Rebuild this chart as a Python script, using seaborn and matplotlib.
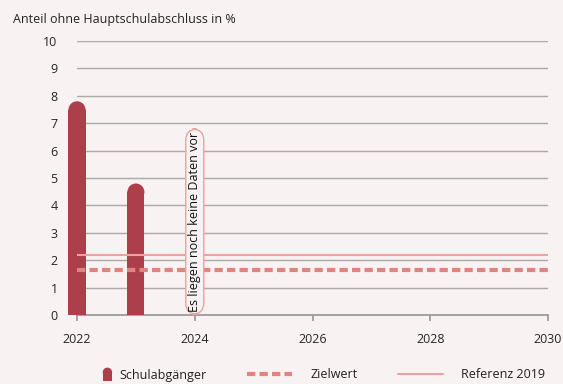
import matplotlib
matplotlib.use("Agg")
import matplotlib.pyplot as plt
import seaborn as sns
import pandas as pd
from matplotlib.patches import Ellipse, Rectangle
from matplotlib.lines import Line2D
from matplotlib.legend_handler import HandlerPatch

years = [2022, 2023]
values = [7.8, 4.8]
zielwert = 1.65
referenz = 2.2
x_ticks = [2022, 2024, 2026, 2028, 2030]
y_ticks = list(range(0, 11))
note_text = "Es liegen noch keine Daten vor"
note_year = 2024

BG = "#f8f2f2"
BAR = "#ad3f4a"
ZIEL = "#e0847f"
REF = "#eaa3a1"
GRID = "#aaaaaa"
FONT = ["Open Sans", "DejaVu Sans"]

sns.set_theme(style="white")
plt.rcParams["font.family"] = FONT
plt.rcParams["text.color"] = "#222222"

fig = plt.figure(figsize=(5.63, 3.84), dpi=100, facecolor=BG)
ax = fig.add_axes([77/563, 1-315/384, (548-77)/563, (315-41)/384])
ax.set_facecolor(BG)

df = pd.DataFrame({"Jahr": years, "Wert": values})
sns.barplot(data=df, x="Jahr", y="Wert", native_scale=True, width=0.29,
            color=BAR, saturation=1, ax=ax, zorder=3, linewidth=0)

ax.set_xlim(2022, 2030)
ax.set_ylim(0, 10)
ax.set_xticks(x_ticks)
ax.set_xticklabels([str(t) for t in x_ticks], fontsize=9)
ax.set_yticks(y_ticks)
ax.set_yticklabels([str(t) for t in y_ticks], fontsize=9)
ax.set_xlabel("")
ax.set_ylabel("")
ax.yaxis.grid(True, color=GRID, lw=1)
ax.xaxis.grid(False)
ax.set_axisbelow(True)
for s in ["top", "right", "left"]:
    ax.spines[s].set_visible(False)
ax.spines["bottom"].set_color("#999999")
ax.tick_params(axis="x", bottom=True, length=4, color="#999999", pad=9)
ax.tick_params(axis="y", left=False, length=0, pad=14)

# rounded bar tops
fig.canvas.draw()
px_per_x = ax.transData.transform((1, 0))[0] - ax.transData.transform((0, 0))[0]
px_per_y = ax.transData.transform((0, 1))[1] - ax.transData.transform((0, 0))[1]
for p in list(ax.patches):
    x0, w, h = p.get_x(), p.get_width(), p.get_height()
    r_px = w * px_per_x / 2
    ry = r_px / px_per_y
    p.set_height(h - ry)
    p.set_clip_on(False)
    p.set_linewidth(0)
    ax.add_patch(Ellipse((x0 + w/2, h - ry), w, 2*ry, facecolor=BAR, edgecolor="none",
                         zorder=3, clip_on=False, lw=0))

ax.axhline(referenz, color=REF, lw=1.5, zorder=4)
ax.axhline(zielwert, color=ZIEL, lw=3, ls=(0, (2, 1)), zorder=4)

ax.text(note_year, 0.12, note_text, rotation=90, ha="center", va="bottom", fontsize=9,
        color="#111111", zorder=5,
        bbox=dict(boxstyle="round,pad=0.2,rounding_size=0.9", fc=BG, ec=REF, lw=1))

fig.text(13/563, 1-19/384, "Anteil ohne Hauptschulabschluss in %", fontsize=9,
         ha="left", va="center")


class RoundBarHandler(HandlerPatch):
    def create_artists(self, legend, orig_handle, xdescent, ydescent, width, height, fontsize, trans):
        w = 6.8
        r = w / 2
        hgt = 9.4
        cx = width - xdescent + 4.7
        cy = -ydescent + height / 2
        bottom = cy - hgt / 2
        top = cy + hgt / 2
        rect = Rectangle((cx - r, bottom), w, top - r - bottom, facecolor=BAR, edgecolor="none", lw=0)
        ell = Ellipse((cx, top - r), w, w, facecolor=BAR, edgecolor="none", lw=0)
        for a in (rect, ell):
            a.set_transform(trans)
        return [rect, ell]


bar_handle = Rectangle((0, 0), 1, 1, color=BAR)
handles = [bar_handle,
           Line2D([], [], color=ZIEL, lw=3, ls=(0, (2, 1))),
           Line2D([], [], color=REF, lw=1.5)]
labels = ["Schulabgänger", "Zielwert", "Referenz 2019"]
fig.legend(handles, labels, loc="center", bbox_to_anchor=(0.534, 1-375/384), ncol=3,
           frameon=False, fontsize=9, handlelength=3.6, columnspacing=3.28,
           handletextpad=1.44, handler_map={Rectangle: RoundBarHandler()})

fig.savefig("out.png", dpi=100, facecolor=BG)
